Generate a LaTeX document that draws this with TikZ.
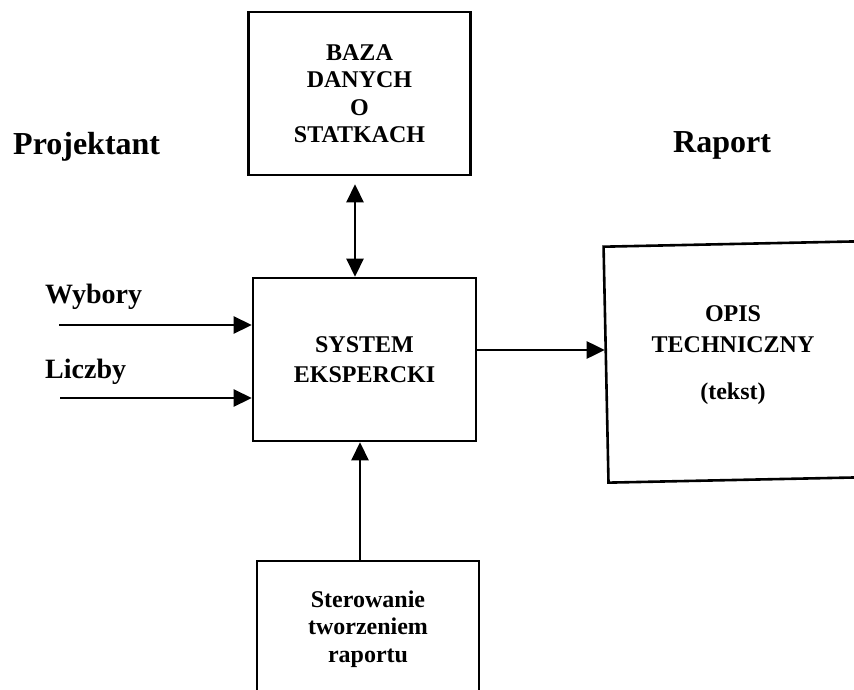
\documentclass[tikz,border=0pt]{standalone}
\usepackage{fontspec}
\setmainfont{Liberation Serif}
\usetikzlibrary{arrows.meta}

\begin{document}
\begin{tikzpicture}[>={Triangle[length=18pt,width=17pt]},x=1pt,y=-1pt,
    blok/.style={draw,line width=2.6pt,inner sep=0pt,align=center,
      font=\fontsize{24}{27.5}\selectfont\bfseries},
    napis/.style={font=\fontsize{32}{36}\selectfont\bfseries,inner sep=0pt},
    wejscie/.style={font=\fontsize{28}{32}\selectfont\bfseries,inner sep=0pt},
    strzalka/.style={->,line width=2.6pt}]
  % Page
  \clip (0,0) rectangle (854,690);
  \fill[white] (0,0) rectangle (854,690);
  %
  % Boxes
  \node[blok,minimum width=222pt,minimum height=163pt] (baza) at (359.5,93.5)
    {BAZA\\DANYCH\\O\\STATKACH};
  \node[blok,minimum width=223pt,minimum height=163pt] (system) at (364.5,359.5)
    {SYSTEM\\[2.5pt]EKSPERCKI};
  \node[blok,minimum width=254pt,minimum height=236pt,rotate=1.2] (opis) at (733,362) {};
  \node[blok,draw=none,font=\fontsize{24}{31}\selectfont\bfseries]
    (opistekst) at (733,355) {OPIS\\TECHNICZNY\\[16pt](tekst)};
  \node[blok,minimum width=222pt,minimum height=136pt] (sterowanie) at (368,629)
    {Sterowanie\\tworzeniem\\raportu};
  %
  % Labels
  \node[napis,anchor=base west] (projektant) at (13,155) {Projektant};
  \node[napis,anchor=base west] (raport) at (673,153) {Raport};
  \node[wejscie,anchor=base west] (wybory) at (45,303) {Wybory};
  \node[wejscie,anchor=base west] (liczby) at (45,378) {Liczby};
  %
  % Connectors
  \coordinate (wy) at (59,325);
  \coordinate (li) at (60,398);
  \draw[strzalka] (wy) -- (wy -| system.west);
  \draw[strzalka] (li) -- (li -| system.west);
  \coordinate (bs) at ([xshift=-4.5pt,yshift=-8pt]baza.south);
  \draw[strzalka,<->] (bs) -- (bs |- system.north);
  \coordinate (se) at ([yshift=9.5pt]system.east);
  \draw[strzalka] (se) -- (se -| opis.west);
  \coordinate (sn) at ([xshift=-8pt]sterowanie.north);
  \draw[strzalka] (sn) -- (sn |- system.south);
  %
\end{tikzpicture}
\end{document}
